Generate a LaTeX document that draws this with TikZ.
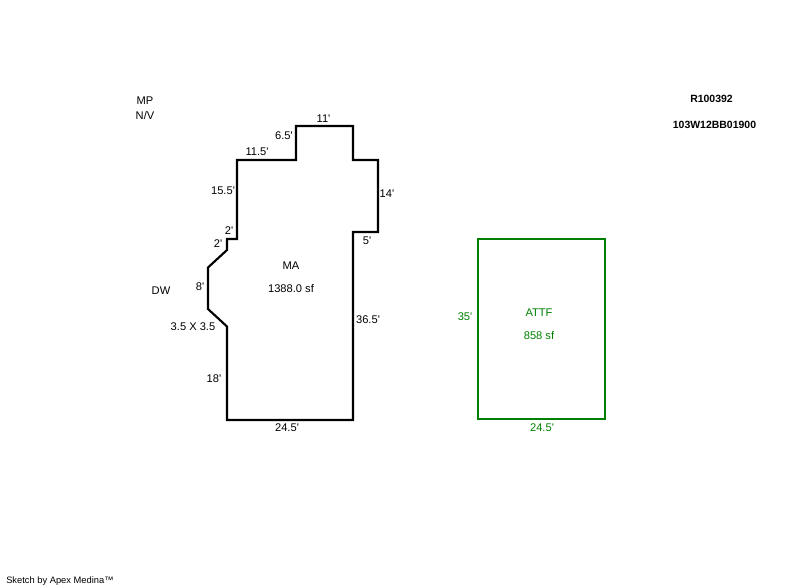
\documentclass[tikz,border=0pt]{standalone}
\usepackage{fontspec}
\newfontfamily\plainsans{Liberation Sans}
\tikzset{
  px/.style={x=0.75pt,y=-0.75pt},
  wall/.style={line width=1.6pt,line join=miter},
  lbl/.style={inner sep=0pt,font=\plainsans\fontsize{8.35pt}{10pt}\selectfont,anchor=center,yshift=-0.5pt},
  grn/.style={lbl,text=attgreen},
  bld/.style={lbl,font=\plainsans\fontsize{7.85pt}{10pt}\selectfont\bfseries},
}
\definecolor{attgreen}{RGB}{0,128,0}
\begin{document}
\begin{tikzpicture}[px]
\useasboundingbox (0,0) rectangle (800,587);
\draw[wall] (296,126) -- (353,126) -- (353,160) -- (378,160) -- (378,232) -- (353,232) -- (353,420) -- (227,420) -- (227,326.5) -- (208,309) -- (208,267.5) -- (227,250) -- (227,239) -- (237,239) -- (237,160) -- (296,160) -- cycle;
\draw[wall,attgreen] (478,239) rectangle (605,419);
\node[lbl] (mp) at (145,100) {MP};
\node[lbl] (nv) at (145,115) {N/V};
\node[lbl] (a) at (323.5,118) {11'};
\node[lbl] (b) at (284,135) {6.5'};
\node[lbl] (c) at (257,151) {11.5'};
\node[lbl] (d) at (223,190) {15.5'};
\node[lbl] (e) at (387,193) {14'};
\node[lbl] (f) at (229,230) {2'};
\node[lbl] (g) at (218,243) {2'};
\node[lbl] (h) at (367,240) {5'};
\node[lbl] (ma) at (291,265) {MA};
\node[lbl] (area) at (291,288) {1388.0 sf};
\node[lbl] (dw) at (161,290) {DW};
\node[lbl] (i) at (200,286) {8'};
\node[lbl] (j) at (368,319) {36.5'};
\node[lbl] (k) at (193,326) {3.5 X 3.5};
\node[lbl] (l) at (214,378) {18'};
\node[lbl] (m) at (287,427) {24.5'};
\node[grn] (attf) at (539,312) {ATTF};
\node[grn] (attfa) at (539,335) {858 sf};
\node[grn] (n) at (465,316) {35'};
\node[grn] (o) at (542,427) {24.5'};
\node[bld] (r) at (711.5,98.5) {R100392};
\node[bld] (p) at (714.5,124) {103W12BB01900};
\node[lbl,anchor=west,font=\plainsans\fontsize{7pt}{9pt}\selectfont] (s) at (6,580) {Sketch by Apex Medina™};
\end{tikzpicture}
\end{document}
